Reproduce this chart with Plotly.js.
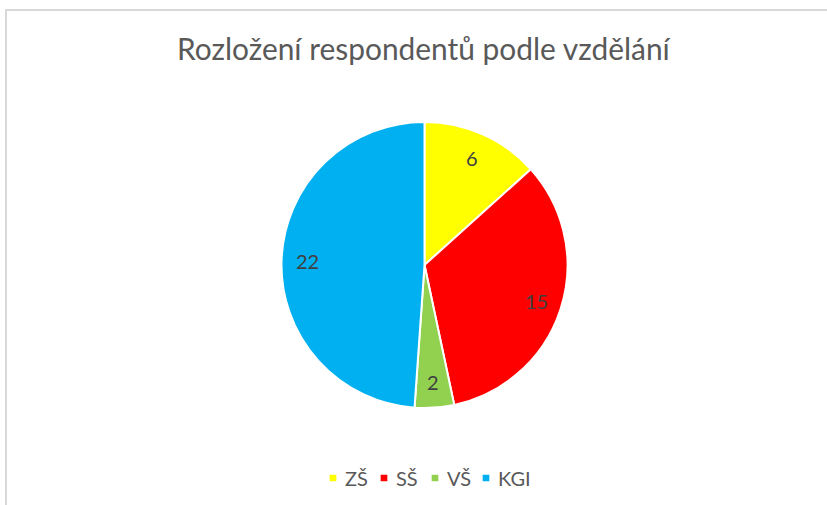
<!DOCTYPE html>
<html>
<head>
<meta charset="utf-8">
<script src="https://cdn.plot.ly/plotly-3.0.1.min.js"></script>
<style>
html,body{margin:0;padding:0;background:#fff;overflow:hidden;}
#wrap{position:relative;width:827px;height:505px;}
#frame{position:absolute;left:5px;top:9px;width:900px;height:600px;border-top:2px solid #D9D9D9;border-left:2px solid #D9D9D9;pointer-events:none;}
#chart{position:absolute;left:0;top:0;width:827px;height:505px;}
#chart .legendpie{transform:translate(28px,0px) scale(0.667);}
#chart .legend .scrollbox{clip-path:none !important;}
</style>
</head>
<body>
<div id="wrap">
<div id="chart"></div>
<div id="frame"></div>
</div>
<script>
const categories = ["ZŠ", "SŠ", "VŠ", "KGI"];
const values = [6, 15, 2, 22];
const colors = ["#FFFF00", "#FF0000", "#92D050", "#00B0F0"];
const titleText = "Rozložení respondentů podle vzdělání";

const W = 827, H = 505;
const cx = 424.5, cy = 265, r = 143;
const labelRadius = 0.82;
const FONT = "Lato, Carlito, Calibri, sans-serif";

// data labels placed at fixed fraction of radius, angle derived from the values
const total = values.reduce((a, b) => a + b, 0);
let cum = 0;
const annotations = values.map((v) => {
  const mid = (cum + v / 2) / total;
  cum += v;
  const th = 2 * Math.PI * mid;
  const px = cx + labelRadius * r * Math.sin(th);
  const py = cy - labelRadius * r * Math.cos(th);
  return {
    text: String(v), x: px / W, y: 1 - py / H, xref: "paper", yref: "paper",
    xanchor: "center", yanchor: "middle", showarrow: false,
    font: {family: FONT, size: 20, color: "#404040"}
  };
});

const trace = {
  type: "pie",
  labels: categories,
  values: values,
  sort: false,
  direction: "clockwise",
  rotation: 0,
  marker: {colors: colors, line: {color: "#FFFFFF", width: 2}},
  textinfo: "none",
  hoverinfo: "skip",
  domain: {x: [(cx - r) / W, (cx + r) / W], y: [(H - cy - r) / H, (H - cy + r) / H]}
};

const layout = {
  width: W, height: H,
  margin: {l: 0, r: 0, t: 0, b: 0},
  paper_bgcolor: "#FFFFFF",
  title: {text: titleText, x: 0.512, xanchor: "center", y: 1 - 50 / H, yanchor: "middle",
          font: {family: FONT, size: 29.9, color: "#595959"}},
  annotations: annotations,
  showlegend: true,
  legend: {orientation: "h", x: 305 / W, xanchor: "left", y: 1 - 478 / H, yanchor: "middle",
           font: {family: FONT, size: 20, color: "#595959"},
           itemwidth: 30, entrywidth: 6, traceorder: "normal"}
};

Plotly.newPlot("chart", [trace], layout, {displayModeBar: false, staticPlot: true});
</script>
</body>
</html>
